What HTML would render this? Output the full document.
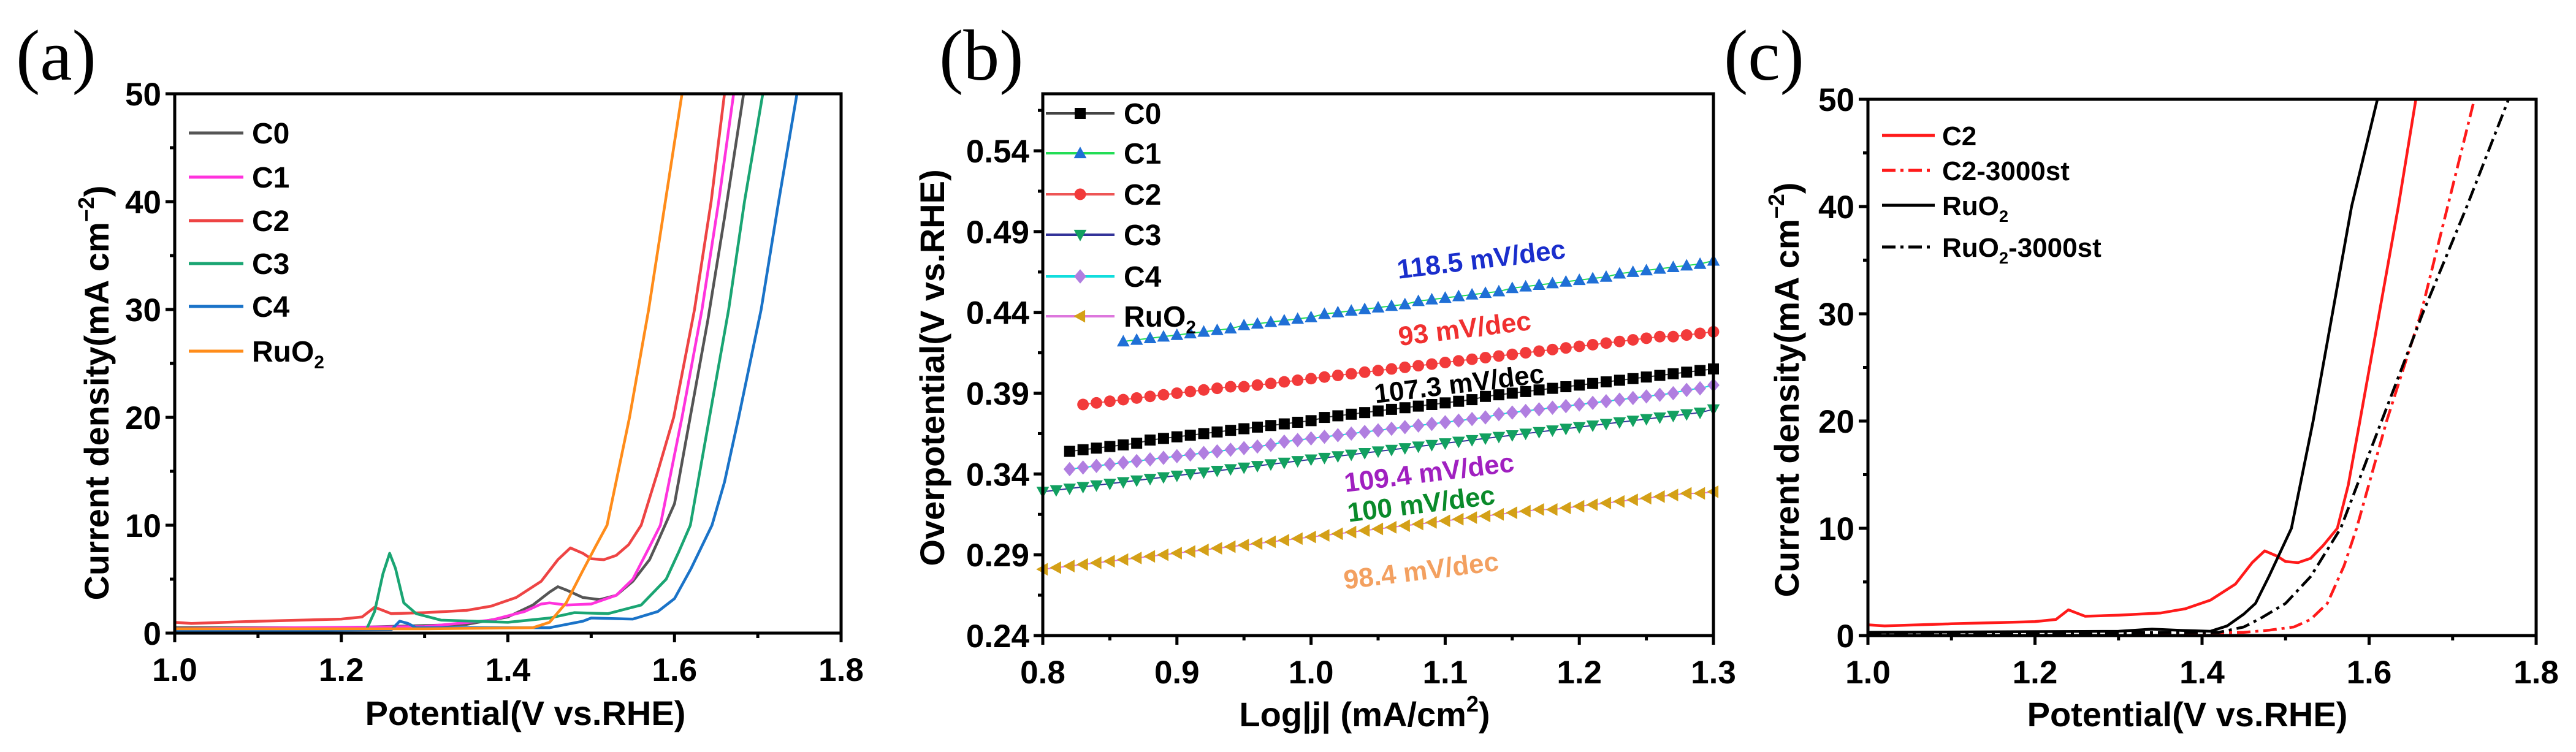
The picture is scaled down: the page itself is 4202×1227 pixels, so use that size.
<!DOCTYPE html>
<html><head><meta charset="utf-8"><style>
html,body{margin:0;padding:0;background:#fff;overflow:hidden;}
svg{display:block;font-family:"Liberation Sans",Arial,sans-serif;}
</style></head><body>
<svg id="fig" width="4202" height="1227" viewBox="0 0 4202 1227" xmlns="http://www.w3.org/2000/svg"></svg>
<script>
// ---------- Panel (a) data: [potential V, current mA cm-2] ----------
const aC0 = [[1.0,0.5],[1.2,0.5],[1.35,0.8],[1.40,1.5],[1.43,2.6],[1.45,3.8],[1.46,4.3],[1.47,4.0],[1.49,3.3],[1.51,3.1],[1.53,3.5],[1.55,4.8],[1.57,6.8],[1.58,8.5],[1.60,12],[1.62,20.5],[1.64,29],[1.66,38.5],[1.683,50]];
const aC1 = [[1.0,0.4],[1.3,0.6],[1.38,1.2],[1.42,2.0],[1.44,2.7],[1.45,2.8],[1.47,2.6],[1.50,2.7],[1.53,3.5],[1.55,5],[1.57,8],[1.583,10],[1.609,20],[1.633,30],[1.653,40],[1.671,50]];
const aC2 = [[1.0,1.0],[1.02,0.9],[1.1,1.1],[1.2,1.3],[1.225,1.5],[1.24,2.4],[1.25,2.1],[1.26,1.8],[1.3,1.9],[1.35,2.1],[1.38,2.5],[1.41,3.3],[1.44,4.8],[1.46,6.8],[1.475,7.9],[1.49,7.4],[1.50,6.9],[1.515,6.8],[1.53,7.2],[1.545,8.2],[1.56,10],[1.58,15],[1.599,20],[1.624,30],[1.644,40],[1.660,50]];
const aC3 = [[1.0,0.3],[1.23,0.3],[1.24,2],[1.25,5.5],[1.258,7.4],[1.265,6],[1.275,2.8],[1.29,1.8],[1.32,1.2],[1.40,1.0],[1.45,1.4],[1.48,1.9],[1.52,1.8],[1.56,2.6],[1.59,5],[1.605,7.5],[1.619,10],[1.642,20],[1.665,30],[1.684,40],[1.706,50]];
const aC4 = [[1.0,0.2],[1.26,0.3],[1.27,1.1],[1.28,0.9],[1.29,0.5],[1.45,0.5],[1.49,1.1],[1.50,1.4],[1.55,1.3],[1.58,2],[1.60,3.2],[1.62,6],[1.645,10],[1.66,14],[1.677,20],[1.704,30],[1.725,40],[1.747,50]];
const aRuO2 = [[1.0,0.4],[1.3,0.4],[1.43,0.5],[1.45,1.0],[1.47,2.8],[1.49,5.8],[1.505,8],[1.519,10],[1.546,20],[1.569,30],[1.589,40],[1.609,50]];
const aLabels = ["C0","C1","C2","C3","C4","RuO2"];

// ---------- Panel (b) data ----------
const bX = [0.80,0.81,0.82,0.83,0.84,0.85,0.86,0.87,0.88,0.89,0.90,0.91,0.92,0.93,0.94,0.95,0.96,0.97,0.98,0.99,1.00,1.01,1.02,1.03,1.04,1.05,1.06,1.07,1.08,1.09,1.10,1.11,1.12,1.13,1.14,1.15,1.16,1.17,1.18,1.19,1.20,1.21,1.22,1.23,1.24,1.25,1.26,1.27,1.28,1.29,1.30];
const bC0 = [null,null,.354,.355,.356,.357,.358,.359,.361,.362,.363,.364,.365,.366,.367,.368,.369,.370,.371,.372,.373,.375,.376,.377,.378,.379,.380,.381,.382,.383,.384,.385,.386,.388,.389,.390,.391,.392,.393,.394,.395,.396,.397,.398,.399,.400,.401,.402,.403,.404,.405];
const bC1 = [null,null,null,null,null,null,.422,.423,.424,.425,.426,.427,.428,.429,.430,.432,.433,.434,.435,.436,.437,.439,.440,.441,.442,.443,.444,.445,.447,.448,.449,.450,.451,.452,.453,.455,.456,.457,.458,.459,.460,.461,.462,.464,.465,.466,.467,.468,.469,.470,.472];
const bC2 = [null,null,null,.383,.384,.385,.386,.387,.388,.389,.390,.391,.392,.393,.394,.394,.395,.396,.397,.398,.399,.400,.401,.402,.403,.404,.405,.406,.407,.408,.409,.410,.411,.412,.413,.414,.415,.416,.417,.418,.419,.420,.421,.422,.423,.424,.425,.425,.426,.427,.428];
const bC3 = [.329,.330,.331,.332,.333,.334,.335,.336,.337,.338,.339,.340,.341,.342,.343,.344,.345,.346,.347,.348,.349,.350,.351,.352,.353,.354,.355,.356,.357,.358,.359,.360,.361,.362,.363,.364,.365,.366,.367,.368,.369,.370,.371,.372,.373,.374,.375,.376,.377,.378,.380];
const bC4 = [null,null,.343,.344,.345,.346,.347,.348,.349,.350,.351,.352,.353,.354,.355,.356,.357,.358,.360,.361,.362,.363,.364,.365,.366,.367,.368,.369,.370,.371,.372,.373,.374,.375,.377,.378,.379,.380,.381,.382,.383,.384,.385,.386,.387,.388,.389,.390,.392,.393,.395];
const bRuO2 = [.281,.282,.283,.284,.285,.286,.287,.288,.289,.290,.291,.292,.293,.294,.295,.296,.297,.298,.299,.300,.301,.302,.303,.304,.305,.306,.307,.308,.309,.310,.311,.312,.313,.314,.315,.316,.317,.318,.318,.319,.320,.321,.322,.323,.324,.325,.326,.327,.328,.328,.329];
const bSlopes = ["118.5 mV/dec","93 mV/dec","107.3 mV/dec","109.4 mV/dec","100 mV/dec","98.4 mV/dec"];
const bYTicks = [0.24,0.29,0.34,0.39,0.44,0.49,0.54];
const bXTicks = [0.8,0.9,1.0,1.1,1.2,1.3];

// ---------- Panel (c) data ----------
const cC2 = [[1.0,1.0],[1.02,0.9],[1.1,1.1],[1.2,1.3],[1.225,1.5],[1.24,2.4],[1.25,2.1],[1.26,1.8],[1.3,1.9],[1.35,2.1],[1.38,2.5],[1.41,3.3],[1.44,4.8],[1.46,6.8],[1.475,7.9],[1.49,7.4],[1.50,6.9],[1.515,6.8],[1.53,7.2],[1.545,8.4],[1.562,10],[1.575,14],[1.589,20],[1.612,30],[1.635,40],[1.656,50]];
const cC2st = [[1.0,0.2],[1.22,0.3],[1.3,0.2],[1.45,0.3],[1.48,0.5],[1.51,0.8],[1.53,1.5],[1.55,3],[1.57,6.5],[1.585,10],[1.621,20],[1.662,30],[1.694,40],[1.726,50]];
const cRuO2 = [[1.0,0.3],[1.3,0.4],[1.34,0.6],[1.37,0.5],[1.41,0.4],[1.43,0.9],[1.45,2],[1.464,3],[1.48,5.5],[1.507,10],[1.533,20],[1.556,30],[1.579,40],[1.610,50]];
const cRuO2st = [[1.0,0.2],[1.42,0.3],[1.45,0.8],[1.47,1.6],[1.50,3],[1.53,5.5],[1.566,10],[1.615,20],[1.664,30],[1.717,40],[1.767,50]];
const vTicks = [1.0,1.2,1.4,1.6,1.8];
const jTicks = [0,10,20,30,40,50];

const NS = "http://www.w3.org/2000/svg";
const svg = document.getElementById("fig");
function el(tag, attrs, parent, text){
  const e = document.createElementNS(NS, tag);
  for (const k in attrs) e.setAttribute(k, attrs[k]);
  if (text !== undefined) e.textContent = text;
  (parent || svg).appendChild(e);
  return e;
}
function lin(d0,d1,r0,r1){ return v => r0 + (v-d0)/(d1-d0)*(r1-r0); }

function frame(g, L, R, T, B, sx, sy, xt, yt, xMinorStep, yMinorStep, fmtX, fmtY, xr, yr){
  for (let v = xr[0]; v <= xr[1]+1e-9; v += xMinorStep){
    const isMajor = xt.some(t => Math.abs(t-v) < 1e-6);
    const t = el("line",{x1:sx(v),x2:sx(v),y1:B,y2:B+(isMajor?15:8),stroke:"#000","stroke-width":5},g);
    
    
  }
  for (let v = yr[0]; v <= yr[1]+1e-9; v += yMinorStep){
    const isMajor = yt.some(t => Math.abs(t-v) < 1e-6);
    const t = el("line",{x1:L-(isMajor?15:8),x2:L,y1:sy(v),y2:sy(v),stroke:"#000","stroke-width":5},g);
    
    
  }
  xt.forEach(v => {
    const t = el("text",{x:sx(v),y:B+78,"text-anchor":"middle","font-size":53,"font-weight":"bold"},g,fmtX(v));
    
    
  });
  yt.forEach(v => {
    const t = el("text",{x:L-22,y:sy(v)+19,"text-anchor":"end","font-size":53,"font-weight":"bold"},g,fmtY(v));
    
    
  });
  const f = el("rect",{x:L,y:T,width:R-L,height:B-T,fill:"none",stroke:"#000","stroke-width":5},g);
  
  
}
function clipFor(id,L,R,T,B){
  const cp = el("clipPath",{id:id});
  el("rect",{x:L,y:T,width:R-L,height:B-T},cp);
}
function curve(g, pts, sx, sy, color, dash, name, clip){
  const d = pts.map((p,i)=>(i?"L":"M")+sx(p[0]).toFixed(1)+","+sy(p[1]).toFixed(1)).join("");
  const a = {d:d,fill:"none",stroke:color,"stroke-width":4.5,"stroke-linejoin":"round","clip-path":"url(#"+clip+")"};
  if (dash) a["stroke-dasharray"] = dash;
  const p = el("path",a,g);
  
  
}
function legendText(g,x,y,label,size){
  const t = el("text",{x:x,y:y,"font-size":size,"font-weight":"bold"},g);
  if (label.indexOf("RuO2")===0){
    el("tspan",{},t,"RuO");
    el("tspan",{"font-size":size*0.62,dy:11},t,"2");
    const rest = label.slice(4);
    if (rest) el("tspan",{dy:-11},t,rest);
  } else t.textContent = label;
  
  
  return t;
}
function yTitleJ(g,x,y){
  const t = el("text",{x:0,y:0,transform:`translate(${x},${y}) rotate(-90)`,"text-anchor":"middle","font-size":56,"font-weight":"bold"},g);
  el("tspan",{},t,"Current density(mA cm");
  el("tspan",{"font-size":36,dy:-24},t,"−2");
  el("tspan",{dy:24},t,")");
  
  
}
function panelLabel(x,y,s){
  const t = el("text",{x:x,y:y,"font-family":"'Liberation Serif',serif","font-size":118},svg,s);
  
  
}

// ================= Panel A =================
(function(){
  const g = el("g",{});
  
  
  const L=285,R=1372,T=153,B=1033;
  const sx = lin(1.0,1.8,L,R), sy = lin(0,50,B,T);
  clipFor("clipA",L,R,T,B);
  const series=[aC0,aC1,aC2,aC3,aC4,aRuO2];
  const colors=["#555555","#ff33dd","#ee4444","#1aa573","#1a73c8","#ff8c1a"];
  series.forEach((s,i)=>curve(g,s,sx,sy,colors[i],null,"curve-"+aLabels[i].toLowerCase(),"clipA"));
  frame(g,L,R,T,B,sx,sy,vTicks,jTicks,0.1,5,v=>v.toFixed(1),v=>String(v),[1.0,1.8],[0,50]);
  const rows=[217,289,360,430,500,573];
  aLabels.forEach((lb,i)=>{
    const ln = el("line",{x1:308,x2:397,y1:rows[i],y2:rows[i],stroke:colors[i],"stroke-width":5},g);
    
    
    legendText(g,411,rows[i]+17,lb,48);
  });
  yTitleJ(g,177,641);
  const xt = el("text",{x:857,y:1183,"text-anchor":"middle","font-size":56,"font-weight":"bold"},g,"Potential(V vs.RHE)");
  
  
})();
panelLabel(26,130,"(a)");

// ================= Panel B =================
(function(){
  const g = el("g",{});
  
  
  const L=1701,R=2795,T=153,B=1037;
  const sx = lin(0.8,1.3,L,R), sy = lin(0.24,0.5753,B,T);
  clipFor("clipB",L-12,R+12,T,B);
  const series=[bC0,bC1,bC2,bC3,bC4,bRuO2];
  const names=["C0","C1","C2","C3","C4","RuO2"];
  const mcol=["#000000","#1f6fd6","#f23a3a","#12a060","#b07ee0","#d4a017"];
  const lcol=["#444444","#22dd55","#ee5555","#333399","#11dddd","#dd77dd"];
  const shapes=["sq","up","ci","dn","di","lt"];
  function marker(gg,x,y,sh,c,r){
    let e;
    if(sh==="sq") e=el("rect",{x:x-r,y:y-r,width:2*r,height:2*r,fill:c},gg);
    else if(sh==="ci") e=el("circle",{cx:x,cy:y,r:r*1.05,fill:c},gg);
    else {
      let p;
      if(sh==="up") p=[[x,y-r*1.2],[x+r*1.15,y+r*0.9],[x-r*1.15,y+r*0.9]];
      if(sh==="dn") p=[[x,y+r*1.2],[x+r*1.15,y-r*0.9],[x-r*1.15,y-r*0.9]];
      if(sh==="di") p=[[x,y-r*1.3],[x+r*1.1,y],[x,y+r*1.3],[x-r*1.1,y]];
      if(sh==="lt") p=[[x-r*1.2,y],[x+r*0.9,y-r*1.15],[x+r*0.9,y+r*1.15]];
      e=el("polygon",{points:p.map(q=>q.join(",")).join(" "),fill:c},gg);
    }
    return e;
  }
  series.forEach((s,i)=>{
    const sg = el("g",{"clip-path":"url(#clipB)"},g);
    
    
    const pts=[];
    bX.forEach((x,k)=>{ if(s[k]!==null) pts.push([sx(x),sy(s[k])]); });
    el("polyline",{points:pts.map(p=>p.join(",")).join(" "),fill:"none",stroke:lcol[i],"stroke-width":2},sg);
    pts.forEach(p=>{
      const m = marker(sg,p[0],p[1],shapes[i],mcol[i],9);
      
      
    });
  });
  frame(g,L,R,T,B,sx,sy,bXTicks,bYTicks,0.05,0.025,v=>v.toFixed(1),v=>v.toFixed(2),[0.8,1.3],[0.24,0.575]);
  const rows=[185,250,317,383,451,516];
  names.forEach((lb,i)=>{
    const ln = el("line",{x1:1706,x2:1818,y1:rows[i],y2:rows[i],stroke:lcol[i],"stroke-width":4},g);
    
    
    const m = marker(g,1762,rows[i],shapes[i],mcol[i],9);
    
    
    legendText(g,1833,rows[i]+17,lb,48);
  });
  const annX=[2418,2391,2382,2333,2320,2320];
  const annY=[423,536,626,771,822,931];
  const annC=["#1a2ecc","#f03030","#000000","#a020c0","#0a8a2a","#f3a060"];
  bSlopes.forEach((s,i)=>{
    const t = el("text",{x:0,y:0,transform:`translate(${annX[i]},${annY[i]+15}) rotate(-7)`,"text-anchor":"middle","font-size":44,"font-weight":"bold",fill:annC[i]},g,s);
    
    
  });
  const yt = el("text",{x:0,y:0,transform:"translate(1540,600) rotate(-90)","text-anchor":"middle","font-size":56,"font-weight":"bold"},g,"Overpotential(V vs.RHE)");
  
  
  const xt = el("text",{x:2226,y:1185,"text-anchor":"middle","font-size":56,"font-weight":"bold"},g);
  el("tspan",{},xt,"Log|j| (mA/cm");
  el("tspan",{"font-size":36,dy:-24},xt,"2");
  el("tspan",{dy:24},xt,")");
  
  
})();
panelLabel(1532,130,"(b)");

// ================= Panel C =================
(function(){
  const g = el("g",{});
  
  
  const L=3047,R=4137,T=162,B=1037;
  const sx = lin(1.0,1.8,L,R), sy = lin(0,50,B,T);
  clipFor("clipC",L,R,T,B);
  const series=[cC2,cC2st,cRuO2,cRuO2st];
  const names=["C2","C2-3000st","RuO2","RuO2-3000st"];
  const colors=["#ff1a1a","#ff1a1a","#000000","#000000"];
  const dashes=[null,"22,8,5,8",null,"22,8,5,8"];
  series.forEach((s,i)=>curve(g,s,sx,sy,colors[i],dashes[i],"curve-"+names[i].toLowerCase(),"clipC"));
  frame(g,L,R,T,B,sx,sy,vTicks,jTicks,0.1,5,v=>v.toFixed(1),v=>String(v),[1.0,1.8],[0,50]);
  const rows=[221,278,335,403];
  names.forEach((lb,i)=>{
    const a={x1:3070,x2:3156,y1:rows[i],y2:rows[i],stroke:colors[i],"stroke-width":5};
    if(dashes[i]) a["stroke-dasharray"]="22,8,5,8";
    const ln = el("line",a,g);
    
    
    legendText(g,3168,rows[i]+16,lb,44);
  });
  yTitleJ(g,2934,636);
  const xt = el("text",{x:3568,y:1185,"text-anchor":"middle","font-size":56,"font-weight":"bold"},g,"Potential(V vs.RHE)");
  
  
})();
panelLabel(2812,130,"(c)");
</script>
</body></html>
